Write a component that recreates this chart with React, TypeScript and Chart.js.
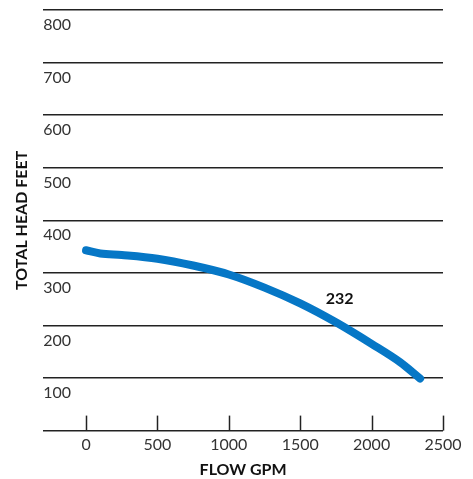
import React, { useEffect, useRef } from "react";
import { Chart, registerables } from "chart.js";

Chart.register(...registerables);

const flowGpm = [0, 100, 250, 500, 750, 1000, 1250, 1500, 1750, 2000, 2200, 2340];
const headFeet = [343, 337, 334, 327, 314, 297, 272, 242, 206, 165, 130, 99];
const xTickValues = [0, 500, 1000, 1500, 2000, 2500];
const curveLabel = "232";
const curveLabelFlow = 1776;
const curveLabelHead = 251;
const xTitle = "FLOW GPM";
const yTitle = "TOTAL HEAD FEET";

const FONT = "Lato, 'Noto Sans', sans-serif";

const extrasPlugin = {
  id: "extras",
  afterDraw(chart: any) {
    const { ctx, scales, chartArea } = chart;
    const xs = scales.x;
    const ys = scales.y;
    ctx.save();
    ctx.strokeStyle = "#222";
    ctx.lineWidth = 1.5;
    for (const t of xs.ticks) {
      const px = Math.round(xs.getPixelForValue(t.value)) + 0.5;
      ctx.beginPath();
      ctx.moveTo(px, chartArea.bottom);
      ctx.lineTo(px, chartArea.bottom - 15);
      ctx.stroke();
    }
    ctx.fillStyle = "#111";
    ctx.font = `bold 16px ${FONT}`;
    ctx.textAlign = "center";
    ctx.textBaseline = "middle";
    ctx.fillText(curveLabel, xs.getPixelForValue(curveLabelFlow), ys.getPixelForValue(curveLabelHead));
    ctx.restore();
  },
};

export default function App() {
  const ref = useRef<HTMLCanvasElement | null>(null);
  useEffect(() => {
    if (!ref.current) return;
    const chart = new Chart(ref.current, {
      type: "line",
      data: {
        datasets: [
          {
            data: flowGpm.map((x, i) => ({ x, y: headFeet[i] })),
            borderColor: "#0677c6",
            borderWidth: 8,
            borderCapStyle: "round",
            borderJoinStyle: "round",
            pointRadius: 0,
            cubicInterpolationMode: "monotone",
            fill: false,
          },
        ],
      },
      options: {
        animation: false,
        responsive: false,
        devicePixelRatio: 1,
        layout: { padding: { left: 12, right: 30, top: 10, bottom: 0 } },
        plugins: { legend: { display: false }, tooltip: { enabled: false } },
        scales: {
          x: {
            type: "linear",
            min: -300,
            max: 2500,
            afterBuildTicks: (scale: any) => {
              scale.ticks = xTickValues.map((v) => ({ value: v }));
            },
            ticks: {
              color: "#333",
              font: { family: FONT, size: 16 },
              padding: 5,
              maxRotation: 0,
              autoSkip: false,
              callback: (v: any) => String(v),
            },
            grid: { display: false, drawTicks: false, tickLength: 0 },
            border: { display: false },
            title: {
              display: true,
              text: xTitle,
              color: "#111",
              font: { family: FONT, size: 16, weight: "bold" },
              padding: { top: 0, bottom: 0 },
            },
          },
          y: {
            min: 0,
            max: 800,
            ticks: {
              stepSize: 100,
              mirror: true,
              padding: 0,
              labelOffset: 15,
              color: "#333",
              font: { family: FONT, size: 16 },
              callback: (v: any) => (v === 0 ? "" : String(v)),
            },
            grid: { color: "#222", lineWidth: 1.5, drawTicks: false },
            border: { display: false },
            title: {
              display: true,
              text: yTitle,
              color: "#111",
              font: { family: FONT, size: 16, weight: "bold" },
              padding: { top: 0, bottom: 12 },
            },
          },
        },
      },
      plugins: [extrasPlugin],
    } as any);
    return () => chart.destroy();
  }, []);
  return (
    <div style={{ position: "fixed", left: 0, top: 0, width: 473, height: 479, background: "#fff" }}>
      <canvas ref={ref} width={473} height={479} style={{ display: "block" }} />
    </div>
  );
}
